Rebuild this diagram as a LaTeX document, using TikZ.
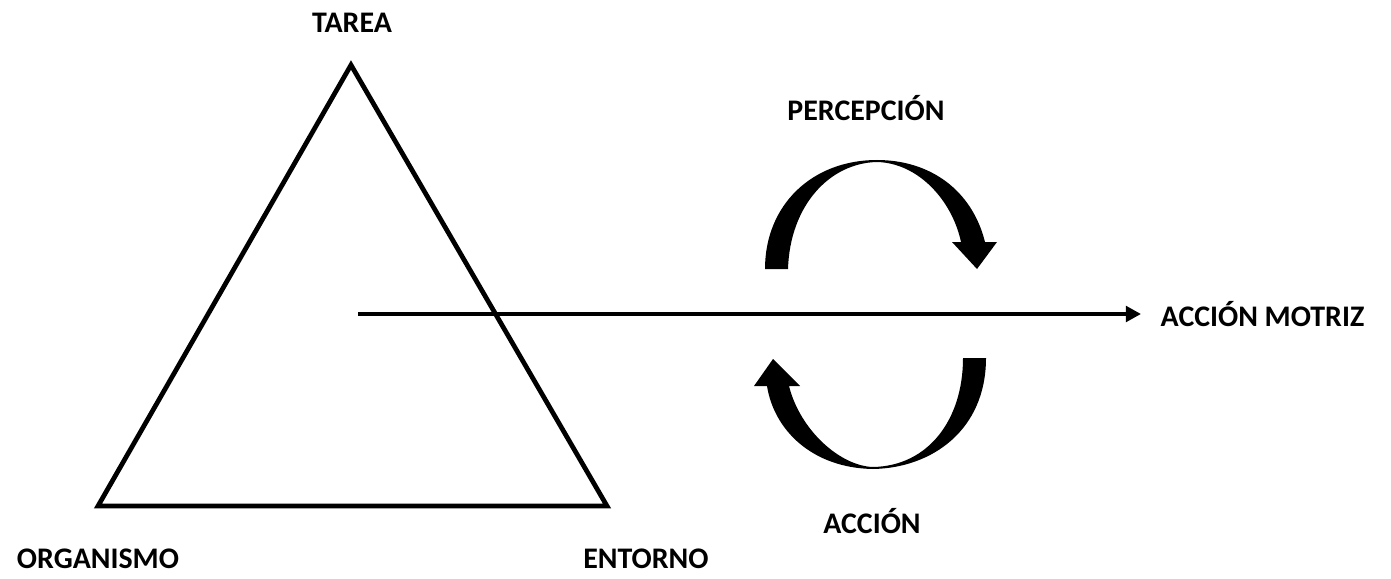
\documentclass[tikz,border=0pt]{standalone}
\usepackage{fontspec}
\setmainfont{Carlito}
\usetikzlibrary{arrows.meta}
\begin{document}
\begin{tikzpicture}[x=0.01cm,y=-0.01cm,
  lbl/.style={inner sep=0pt,font=\fontsize{8.5}{10}\selectfont\bfseries},
  tri/.style={line width=1.35pt,line join=miter},
  mainarrow/.style={line width=1.05pt,-{Triangle[length=4.3pt,width=4.4pt]}},
  curvedarrow/.style={fill=black,draw=none}]
\useasboundingbox (0,0) rectangle (1391,579);
% triangle
\coordinate (apex) at (351,65);
\coordinate (bl) at (98,506);
\coordinate (br) at (607,506);
\draw[tri] (apex) -- (br) -- (bl) -- cycle;
% labels
\node[lbl] (tarea) at (352,23) {TAREA};
\node[lbl] (org) at (98,559) {ORGANISMO};
\node[lbl] (ent) at (646,559) {ENTORNO};
\node[lbl] (perc) at (866,108) {PERCEPCIÓN};
\node[lbl] (acc) at (872,521) {ACCIÓN};
\node[lbl,anchor=west] (motriz) at (1160,314) {ACCIÓN MOTRIZ};
% horizontal arrow
\coordinate (hstart) at (358,314);
\coordinate (hend) at (1141,314);
\draw[mainarrow] (hstart) -- (hend);
% top curved arrow
\fill[curvedarrow] (765,269) -- (788,269)
  .. controls (790,205) and (830,163) .. (877,162)
  .. controls (918,163) and (952,200) .. (961,242)
  -- (952,242) -- (977,269) -- (997,242) -- (985,242)
  .. controls (972,190) and (930,160) .. (877,160)
  .. controls (812,160) and (765,205) .. (765,269) -- cycle;
% bottom curved arrow
\fill[curvedarrow] (963,358) -- (986,358)
  .. controls (986,430) and (932,468) .. (873,469)
  .. controls (812,468) and (774,430) .. (767,386)
  -- (754,386) -- (773,359) -- (800,386) -- (789,386)
  .. controls (800,430) and (840,466) .. (873,467)
  .. controls (928,466) and (963,420) .. (963,358) -- cycle;
\end{tikzpicture}
\end{document}
